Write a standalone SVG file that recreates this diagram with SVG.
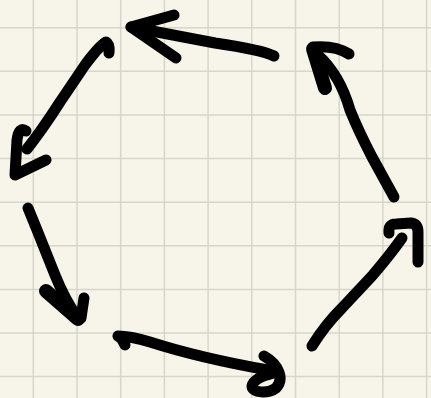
<svg xmlns="http://www.w3.org/2000/svg" width="431" height="398" viewBox="0 0 431 398">
<defs>
<style>
.bg{fill:#f7f5e9}
.grid line{stroke:#d6d6ca;stroke-width:1.5}
.ink{fill:none;stroke:#000;stroke-width:11;stroke-linecap:round;stroke-linejoin:round}
.thick{stroke-width:14}
</style>
</defs>
<rect class="bg" x="0" y="0" width="431" height="398"/>
<g class="grid">
<line x1="33.3" y1="0" x2="33.3" y2="398"/>
<line x1="77" y1="0" x2="77" y2="398"/>
<line x1="120.7" y1="0" x2="120.7" y2="398"/>
<line x1="164.4" y1="0" x2="164.4" y2="398"/>
<line x1="208.1" y1="0" x2="208.1" y2="398"/>
<line x1="251.8" y1="0" x2="251.8" y2="398"/>
<line x1="295.5" y1="0" x2="295.5" y2="398"/>
<line x1="339.2" y1="0" x2="339.2" y2="398"/>
<line x1="382.9" y1="0" x2="382.9" y2="398"/>
<line x1="426.6" y1="0" x2="426.6" y2="398"/>
<line x1="0" y1="27.7" x2="431" y2="27.7"/>
<line x1="0" y1="71.3" x2="431" y2="71.3"/>
<line x1="0" y1="115" x2="431" y2="115"/>
<line x1="0" y1="158.6" x2="431" y2="158.6"/>
<line x1="0" y1="202.2" x2="431" y2="202.2"/>
<line x1="0" y1="245.8" x2="431" y2="245.8"/>
<line x1="0" y1="289.4" x2="431" y2="289.4"/>
<line x1="0" y1="333" x2="431" y2="333"/>
<line x1="0" y1="376.6" x2="431" y2="376.6"/>
</g>
<g id="connectors">
<g id="arrow-top">
<path class="ink" d="M274,56 Q262,50 215,43 L131,27"/>
<path class="ink" d="M174,15 L131,27 L176,58"/>
</g>
<g id="arrow-top-left">
<path class="ink" d="M109,53 Q110,44 106,42 Q100,45 85,65 L60,102 Q42,130 27,149"/>
<path class="ink" d="M26,131 Q19,126 17,140 L15,175 L46,160"/>
</g>
<g id="arrow-left">
<path class="ink" d="M28,208 L37,230 L55,275 Q65,300 78,318"/>
<path class="ink thick" d="M46,291 L78,319"/>
<path class="ink" d="M84,298 L81,318 L76,318"/>
</g>
<g id="arrow-bottom">
<path class="ink" d="M125,345 Q122,338 118,336 Q130,336 150,342 Q200,358 268,370"/>
<path class="ink" d="M264,356 C280,365 284,380 276,388 C268,394 252,393 252,386 C254,378 268,374 278,372"/>
</g>
<g id="arrow-bottom-right">
<path class="ink" d="M312,346 Q325,325 342,308 L372,276 Q390,255 402,238"/>
<path class="ink" d="M389,233 Q388,224 396,224 L411,223 Q418,224 418,232 L418,262"/>
</g>
<g id="arrow-right">
<path class="ink" d="M394,197 L372,157 Q358,130 350,110 Q340,75 318,55"/>
<path class="ink" d="M349,54 Q335,45 313,47"/>
<path class="ink thick" d="M313,49 L325,88"/>
</g>
</g>
</svg>
